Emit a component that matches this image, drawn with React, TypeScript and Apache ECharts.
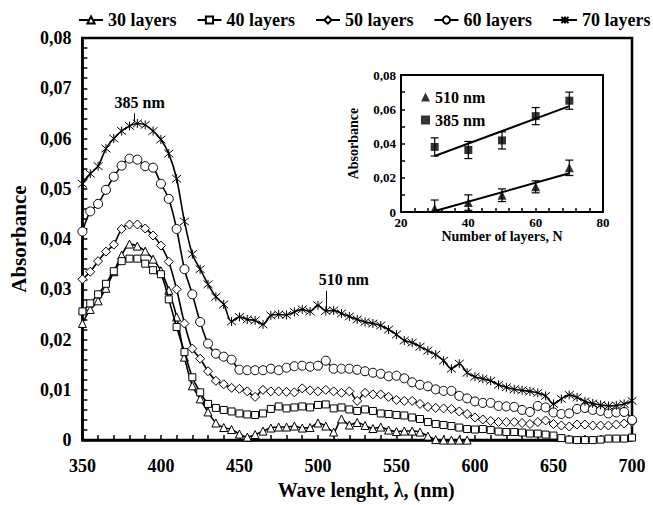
import React, { useEffect, useRef } from "react";
import * as echarts from "echarts";

// ---------- main chart data ----------
const wavelengths = [
  350, 355, 360, 365, 370, 375, 380, 385, 390, 395,
  400, 405, 410, 415, 420, 425, 430, 435, 440, 445,
  450, 455, 460, 465, 470, 475, 480, 485, 490, 495,
  500, 505, 510, 515, 520, 525, 530, 535, 540, 545,
  550, 555, 560, 565, 570, 575, 580, 585, 590, 595,
  600, 605, 610, 615, 620, 625, 630, 635, 640, 645,
  650, 655, 660, 665, 670, 675, 680, 685, 690, 695,
  700,
];

const layers30 = [
  0.0232, 0.026, 0.0277, 0.0302, 0.0335, 0.0368, 0.039, 0.0386, 0.0376, 0.036,
  0.0337, 0.0298, 0.0245, 0.0165, 0.0108, 0.0082, 0.0056, 0.0034, 0.0025, 0.0021,
  0.0012, 0.0006, 0.0011, 0.0018, 0.0024, 0.0026, 0.0026, 0.0028, 0.0024, 0.0025,
  0.0034, 0.0028, 0.0016, 0.0042, 0.003, 0.0035, 0.0029, 0.0023, 0.0026, 0.002,
  0.0017, 0.0018, 0.0018, 0.0016, 0.0008, 0.0001, 0, 0, 0, 0,
];

const layers40 = [
  0.0256, 0.0272, 0.029, 0.0311, 0.0336, 0.0356, 0.0361, 0.0361, 0.0351, 0.0338,
  0.033, 0.028, 0.0225, 0.0175, 0.0125, 0.0095, 0.0072, 0.0064, 0.006, 0.0057,
  0.0053, 0.0051, 0.005, 0.0053, 0.0062, 0.0067, 0.0063, 0.0065, 0.0067, 0.0065,
  0.007, 0.0071, 0.0063, 0.0065, 0.0061, 0.0058, 0.0061, 0.0058, 0.0053, 0.0052,
  0.005, 0.0049, 0.0045, 0.0042, 0.0036, 0.0032, 0.003, 0.0028, 0.0025, 0.0022,
  0.0021, 0.0022, 0.002, 0.0017, 0.0016, 0.0016, 0.0015, 0.0013, 0.0013, 0.0011,
  0.0009, 0.0004, 0.0001, 0, 0, 0, 0.0001, 0.0003, 0.0003, 0.0003,
  0.0005,
];

const layers50 = [
  0.032, 0.0335, 0.0356, 0.0375, 0.0389, 0.042, 0.0429, 0.0429, 0.0421, 0.0407,
  0.0387, 0.0355, 0.03, 0.0232, 0.0182, 0.0162, 0.0137, 0.0118, 0.0111, 0.0104,
  0.0102, 0.0097, 0.0086, 0.01, 0.0097, 0.0097, 0.0096, 0.0095, 0.0103, 0.0099,
  0.0097, 0.01, 0.0097, 0.0094, 0.0097, 0.0078, 0.0094, 0.0091, 0.0091, 0.0086,
  0.008, 0.0078, 0.0078, 0.0072, 0.0066, 0.0064, 0.0063, 0.0062, 0.0057, 0.0052,
  0.0045, 0.0041, 0.0038, 0.0036, 0.0036, 0.0036, 0.0034, 0.0032, 0.0036, 0.0039,
  0.0032, 0.0029, 0.0027, 0.0031, 0.0031, 0.0029, 0.0029, 0.0029, 0.0031, 0.0033,
  0.0036,
];

const layers60 = [
  0.0415, 0.0455, 0.047, 0.0498, 0.0524, 0.0546, 0.056, 0.0558, 0.0545, 0.0542,
  0.051, 0.048, 0.042, 0.034, 0.029, 0.0235, 0.0192, 0.0172, 0.0166, 0.016,
  0.014, 0.0139, 0.0139, 0.0139, 0.0142, 0.0139, 0.0144, 0.0147, 0.0148, 0.0146,
  0.0148, 0.0158, 0.0142, 0.0142, 0.0142, 0.014, 0.0137, 0.0134, 0.0132, 0.0127,
  0.0128, 0.0123, 0.0115, 0.011, 0.0107, 0.0101, 0.0098, 0.0098, 0.0088, 0.0083,
  0.0077, 0.0074, 0.0074, 0.0068, 0.0067, 0.0066, 0.006, 0.0056, 0.0068, 0.0065,
  0.0055, 0.0052, 0.0053, 0.0062, 0.0064, 0.006, 0.0058, 0.0053, 0.0055, 0.0056,
  0.004,
];

const layers70 = [
  0.051, 0.053, 0.0545, 0.058, 0.06, 0.0615, 0.0625, 0.063, 0.0627, 0.0615,
  0.0598, 0.057, 0.052, 0.0435, 0.037, 0.034, 0.031, 0.0285, 0.027, 0.0236,
  0.0245, 0.024, 0.0238, 0.023, 0.0248, 0.025, 0.0249, 0.0255, 0.026, 0.0256,
  0.0268, 0.0257, 0.0258, 0.0252, 0.0246, 0.024, 0.0235, 0.0232, 0.0228, 0.022,
  0.021, 0.0198, 0.0194, 0.0186, 0.0178, 0.017, 0.0158, 0.0142, 0.0152, 0.0134,
  0.0126, 0.0122, 0.0118, 0.011, 0.0105, 0.0101, 0.0099, 0.0097, 0.0094, 0.0088,
  0.0072, 0.0082, 0.009, 0.0085, 0.0077, 0.0073, 0.007, 0.0068, 0.0069, 0.0072,
  0.0078,
];

const seriesNames = ["30 layers", "40 layers", "50 layers", "60 layers", "70 layers"];

// peak annotations: [wavelength, lower A, upper A]
const peak385 = [383.3, 0.0632, 0.065];
const peak510 = [505.6, 0.0259, 0.0297];

// ---------- inset data ----------
const layersN = [30, 40, 50, 60, 70];
const abs510 = [0.002, 0.0055, 0.0098, 0.0147, 0.0258];
const err510 = [0.005, 0.0045, 0.0037, 0.0035, 0.0045];
const abs385 = [0.038, 0.0362, 0.0418, 0.056, 0.065];
const err385 = [0.0053, 0.005, 0.005, 0.005, 0.005];
const fitX385 = [30, 70];
const fitY385 = [0.0327, 0.0618];
const fitX510 = [29, 70];
const fitY510 = [0.0, 0.0226];

const FONT = "'Liberation Serif', 'Times New Roman', serif";
const STAR = "path://M0,0L10,10M10,0L0,10M5,-1L5,11";

const fmtComma = (v: number) => (v === 0 ? "0" : v.toFixed(2).replace(".", ","));

export default function App() {
  const ref = useRef<HTMLDivElement>(null);
  useEffect(() => {
    const chart = echarts.init(ref.current!, null, { renderer: "svg" });

    const mkPairs = (vals: number[]) => vals.map((v, i) => [wavelengths[i], v]);
    const symbols = ["triangle", "rect", "diamond", "circle", STAR];
    const sizes = [8, 7, 9, 9, 9];
    const datas = [layers30, layers40, layers50, layers60, layers70];

    const mainSeries: any[] = seriesNames.map((name, k) => ({
      type: "line",
      name,
      xAxisIndex: 0,
      yAxisIndex: 0,
      data: mkPairs(datas[k]),
      smooth: 0.3,
      showAllSymbol: true,
      symbol: symbols[k],
      symbolSize: sizes[k],
      lineStyle: { color: "#000", width: 1.6 },
      itemStyle: { color: "#fff", borderColor: "#000", borderWidth: 1 },
      z: 2 + k,
    }));

    const annLabel = (pad: number) => ({
      show: true,
      position: "end",
      formatter: "{b}",
      color: "#000",
      fontFamily: FONT,
      fontWeight: "bold",
      fontSize: 16,
      distance: 3,
      padding: [0, 0, 0, pad],
    });
    mainSeries[4].markLine = {
      silent: true,
      symbol: ["none", "none"],
      lineStyle: { color: "#000", width: 1, type: "solid" },
      data: [
        [
          { name: "385 nm", coord: [peak385[0], peak385[1]], label: annLabel(10) },
          { coord: [peak385[0], peak385[2]] },
        ],
        [
          { name: "510 nm", coord: [peak510[0], peak510[1]], label: annLabel(34) },
          { coord: [peak510[0], peak510[2]] },
        ],
      ],
    };

    const errBar = (vals: number[], errs: number[]) => ({
      type: "custom",
      xAxisIndex: 1,
      yAxisIndex: 1,
      silent: true,
      z: 3,
      data: layersN.map((n, i) => [n, vals[i], errs[i]]),
      renderItem: (_p: any, api: any) => {
        const x = api.value(0);
        const y = api.value(1);
        const e = api.value(2);
        const top = api.coord([x, y + e]);
        const bot = api.coord([x, Math.max(0, y - e)]);
        const w = 4;
        const st = { stroke: "#000", lineWidth: 1.2 };
        return {
          type: "group",
          children: [
            { type: "line", shape: { x1: top[0], y1: top[1], x2: bot[0], y2: bot[1] }, style: st },
            { type: "line", shape: { x1: top[0] - w, y1: top[1], x2: top[0] + w, y2: top[1] }, style: st },
            { type: "line", shape: { x1: bot[0] - w, y1: bot[1], x2: bot[0] + w, y2: bot[1] }, style: st },
          ],
        };
      },
    });

    const insetSeries: any[] = [
      errBar(abs510, err510),
      errBar(abs385, err385),
      {
        type: "line",
        xAxisIndex: 1,
        yAxisIndex: 1,
        data: fitX510.map((x, i) => [x, fitY510[i]]),
        symbol: "none",
        lineStyle: { color: "#000", width: 2 },
        silent: true,
        z: 3,
      },
      {
        type: "line",
        xAxisIndex: 1,
        yAxisIndex: 1,
        data: fitX385.map((x, i) => [x, fitY385[i]]),
        symbol: "none",
        lineStyle: { color: "#000", width: 2 },
        silent: true,
        z: 3,
      },
      {
        type: "scatter",
        name: "510 nm",
        xAxisIndex: 1,
        yAxisIndex: 1,
        data: layersN.map((n, i) => [n, abs510[i]]),
        symbol: "triangle",
        symbolSize: 9,
        itemStyle: { color: "#000" },
        z: 4,
      },
      {
        type: "scatter",
        name: "385 nm",
        xAxisIndex: 1,
        yAxisIndex: 1,
        data: layersN.map((n, i) => [n, abs385[i]]),
        symbol: "rect",
        symbolSize: 8,
        itemStyle: { color: "#000" },
        z: 4,
      },
    ];

    const tickStyle = { color: "#000", width: 1.5 };
    const labelBase = { color: "#000", fontFamily: FONT, fontWeight: "bold" };

    const option: any = {
      animation: false,
      backgroundColor: "#fff",
      legend: [
        {
          data: seriesNames,
          top: 6,
          left: 73,
          width: 620,
          itemWidth: 24,
          itemHeight: 9,
          itemGap: 20,
          textStyle: { ...labelBase, fontSize: 18 },
        },
        {
          data: ["510 nm", "385 nm"],
          orient: "vertical",
          left: 416,
          top: 84,
          itemWidth: 9,
          itemHeight: 9,
          itemGap: 7,
          textStyle: { ...labelBase, fontSize: 16 },
        },
      ],
      grid: [
        {
          left: 78,
          right: 21,
          top: 38,
          bottom: 55,
          show: true,
          borderColor: "#000",
          borderWidth: 2.5,
        },
        {
          left: 401,
          right: 50,
          top: 75,
          bottom: 293,
          show: true,
          borderColor: "#000",
          borderWidth: 2,
          backgroundColor: "#fff",
        },
      ],
      xAxis: [
        {
          type: "value",
          gridIndex: 0,
          min: 350,
          max: 700,
          interval: 50,
          axisLine: { lineStyle: { color: "#000", width: 2.5 } },
          axisTick: { inside: true, length: 5, lineStyle: tickStyle },
          minorTick: { show: true, splitNumber: 5, length: 5, lineStyle: tickStyle },
          splitLine: { show: false },
          axisLabel: { ...labelBase, fontSize: 18, margin: 17 },
          name: "Wave lenght, λ, (nm)",
          nameLocation: "middle",
          nameGap: 33,
          nameTextStyle: { ...labelBase, fontSize: 20, padding: [0, 0, 0, 18] },
        },
        {
          type: "value",
          gridIndex: 1,
          min: 20,
          max: 80,
          interval: 20,
          axisLine: { lineStyle: { color: "#000", width: 2 } },
          axisTick: { inside: true, length: 4, lineStyle: tickStyle },
          minorTick: { show: true, splitNumber: 5, length: 4, lineStyle: tickStyle },
          splitLine: { show: false },
          axisLabel: { ...labelBase, fontSize: 13, margin: 4 },
          name: "Number of layers, N",
          nameLocation: "middle",
          nameGap: 16,
          nameTextStyle: { ...labelBase, fontSize: 14 },
        },
      ],
      yAxis: [
        {
          type: "value",
          gridIndex: 0,
          min: 0,
          max: 0.08,
          interval: 0.01,
          axisLine: { lineStyle: { color: "#000", width: 2.5 } },
          axisTick: { inside: true, length: 5, lineStyle: tickStyle },
          minorTick: { show: true, splitNumber: 5, length: 5, lineStyle: tickStyle },
          splitLine: { show: false },
          axisLabel: { ...labelBase, fontSize: 18, margin: 11, formatter: fmtComma },
          name: "Absorbance",
          nameLocation: "middle",
          nameGap: 47,
          nameTextStyle: { ...labelBase, fontSize: 21 },
        },
        {
          type: "value",
          gridIndex: 1,
          min: 0,
          max: 0.08,
          interval: 0.02,
          axisLine: { lineStyle: { color: "#000", width: 2 } },
          axisTick: { inside: true, length: 4, lineStyle: tickStyle },
          minorTick: { show: true, splitNumber: 2, length: 4, lineStyle: tickStyle },
          splitLine: { show: false },
          axisLabel: { ...labelBase, fontSize: 13, margin: 5, formatter: fmtComma },
          name: "Absorbance",
          nameLocation: "middle",
          nameGap: 41,
          nameTextStyle: { ...labelBase, fontSize: 14 },
        },
      ],
      series: [...mainSeries, ...insetSeries],
    };

    chart.setOption(option);
    return () => chart.dispose();
  }, []);

  return (
    <div
      ref={ref}
      style={{ position: "absolute", left: 0, top: 0, width: 653, height: 505 }}
    />
  );
}
